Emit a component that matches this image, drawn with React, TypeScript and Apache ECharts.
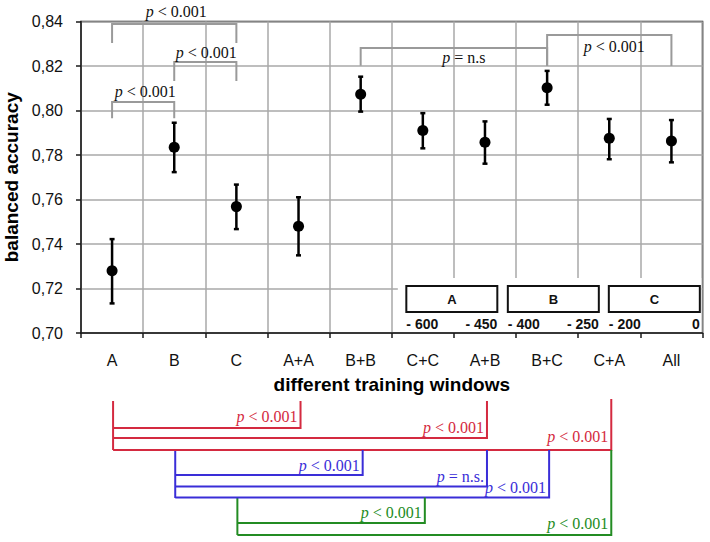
import React, { useEffect, useRef } from "react";
import * as echarts from "echarts";

const categories = ["A", "B", "C", "A+A", "B+B", "C+C", "A+B", "B+C", "C+A", "All"];
const meanValues = [0.728, 0.7835, 0.7568, 0.748, 0.8073, 0.791, 0.7857, 0.8102, 0.7875, 0.7863];
const upperValues = [0.7422, 0.7945, 0.7667, 0.761, 0.8152, 0.7988, 0.7951, 0.8178, 0.7962, 0.7957];
const lowerValues = [0.7133, 0.7723, 0.7467, 0.7349, 0.7995, 0.783, 0.7761, 0.8026, 0.7781, 0.7767];
const yTicks = { min: 0.7, max: 0.84, interval: 0.02 };

// significance brackets drawn inside the plot (values on the y scale)
const topBrackets = [
  { from: "A", to: "C", leg: 0.8303, top: 0.8389, text: " < 0.001", dx: 2, dy: -12 },
  { from: "B", to: "C", leg: 0.8133, top: 0.8218, text: " < 0.001", dx: 1, dy: -9 },
  { from: "A", to: "B", leg: 0.7965, top: 0.8038, text: " < 0.001", dx: 2, dy: -11 },
  { from: "B+B", to: "B+C", leg: 0.8201, top: 0.8281, text: " = n.s", dx: 10, dy: 10 },
  { from: "B+C", to: "All", leg: 0.82, top: 0.8339, text: " < 0.001", dx: 5, dy: 11 },
];

// comparison brackets below the chart
const RED = "#d42a40";
const BLUE = "#3a2ed8";
const GREEN = "#238c23";
const stems = [
  { at: "A", y1: 401, y2: 450, color: RED },
  { at: "B", y1: 450, y2: 498, color: BLUE },
  { at: "C", y1: 498, y2: 535, color: GREEN },
];
const lowBrackets = [
  { from: "A", to: "A+A", y: 428, vTop: 401, ly: 416, text: " < 0.001", color: RED },
  { from: "A", to: "A+B", y: 438, vTop: 401, ly: 427, text: " < 0.001", color: RED },
  { from: "A", to: "C+A", y: 450, vTop: 399, ly: 436, text: " < 0.001", color: RED },
  { from: "B", to: "B+B", y: 475, vTop: 450, ly: 465, text: " < 0.001", color: BLUE },
  { from: "B", to: "A+B", y: 486.5, vTop: 450, ly: 476, text: " = n.s.", color: BLUE },
  { from: "B", to: "B+C", y: 497.5, vTop: 450, ly: 487, text: " < 0.001", color: BLUE },
  { from: "C", to: "C+C", y: 523, vTop: 497.5, ly: 512.5, text: " < 0.001", color: GREEN },
  { from: "C", to: "C+A", y: 535, vTop: 450, ly: 523, text: " < 0.001", color: GREEN },
];

const insetBoxes = [
  { label: "A", left: "- 600", right: "- 450" },
  { label: "B", left: "- 400", right: "- 250" },
  { label: "C", left: "- 200", right: "0" },
];

const SANS = "'Liberation Sans', Arial, sans-serif";
const SERIF = "'Liberation Serif', 'Times New Roman', serif";

export default function App() {
  const ref = useRef<HTMLDivElement>(null);
  useEffect(() => {
    const chart = echarts.init(ref.current!, null, { renderer: "svg" });
    const option: any = {
      animation: false,
      backgroundColor: "#fff",
      grid: {
        left: 81,
        right: 7.5,
        top: 21.5,
        bottom: 209,
        containLabel: false,
        outerBoundsMode: "none",
        show: true,
        borderColor: "#1a1a1a",
        borderWidth: 1.5,
        backgroundColor: "transparent",
      },
      xAxis: {
        type: "category",
        data: categories,
        boundaryGap: true,
        name: "different training windows",
        nameLocation: "middle",
        nameGap: 42,
        nameTextStyle: { fontFamily: SANS, fontSize: 19, fontWeight: "bold", color: "#000" },
        axisLine: { lineStyle: { color: "#1a1a1a", width: 1.5 } },
        axisTick: { show: true, length: 5, lineStyle: { color: "#1a1a1a", width: 1.5 } },
        axisLabel: { fontFamily: SANS, fontSize: 16, color: "#111", margin: 19 },
        splitLine: { show: true, lineStyle: { color: "#a8a8a8", width: 1.5 } },
      },
      yAxis: {
        type: "value",
        min: yTicks.min,
        max: yTicks.max,
        interval: yTicks.interval,
        name: "balanced accuracy",
        nameLocation: "middle",
        nameGap: 50,
        nameTextStyle: { fontFamily: SANS, fontSize: 19, fontWeight: "bold", color: "#000" },
        axisLine: { show: true, lineStyle: { color: "#1a1a1a", width: 1.5 } },
        axisTick: { show: true, length: 5, lineStyle: { color: "#1a1a1a", width: 1.5 } },
        axisLabel: {
          fontFamily: SANS,
          fontSize: 16,
          color: "#111",
          margin: 18,
          formatter: (v: number) => v.toFixed(2).replace(".", ","),
        },
        splitLine: { show: true, lineStyle: { color: "#a8a8a8", width: 1.5 } },
      },
      series: [
        {
          type: "custom",
          data: categories.map((_, i) => [i, lowerValues[i], upperValues[i]]),
          renderItem: (params: any, api: any) => {
            const x = api.value(0);
            const lo = api.coord([x, api.value(1)]);
            const hi = api.coord([x, api.value(2)]);
            const w = 2.5;
            const st = { stroke: "#000", lineWidth: 2.5 };
            return {
              type: "group",
              children: [
                { type: "line", shape: { x1: lo[0], y1: lo[1], x2: hi[0], y2: hi[1] }, style: st },
                { type: "line", shape: { x1: lo[0] - w, y1: lo[1], x2: lo[0] + w, y2: lo[1] }, style: st },
                { type: "line", shape: { x1: hi[0] - w, y1: hi[1], x2: hi[0] + w, y2: hi[1] }, style: st },
              ],
            };
          },
          z: 3,
        },
        {
          type: "scatter",
          data: meanValues,
          symbol: "circle",
          symbolSize: 11,
          itemStyle: { color: "#000", opacity: 1 },
          z: 4,
        },
      ],
    };
    chart.setOption(option);

    const xp = (c: string) => chart.convertToPixel({ xAxisIndex: 0 }, c) as number;
    const yp = (v: number) => chart.convertToPixel({ yAxisIndex: 0 }, v) as number;
    const graphics: any[] = [];

    const pText = (x: number, y: number, text: string, color: string, align: string) => ({
      type: "text",
      x,
      y,
      z: 20,
      style: {
        text: "{i|p}" + text,
        fontFamily: SERIF,
        fontSize: 16,
        fill: color,
        align,
        verticalAlign: "middle",
        rich: { i: { fontStyle: "italic", fontFamily: SERIF, fontSize: 16, fill: color } },
      },
    });

    topBrackets.forEach((b) => {
      const x1 = xp(b.from);
      const x2 = xp(b.to);
      const yl = yp(b.leg);
      const yt = yp(b.top);
      graphics.push({
        type: "polyline",
        z: 10,
        shape: { points: [[x1, yl], [x1, yt], [x2, yt], [x2, yl]] },
        style: { stroke: "#9a9a9a", lineWidth: 2, fill: null },
      });
      graphics.push(pText((x1 + x2) / 2 + b.dx, yt + b.dy, b.text, "#111", "center"));
    });

    // white cover + inset boxes (time windows)
    const plotRight = xp("All") + (xp("All") - xp("C+A")) / 2;
    const plotBottom = yp(yTicks.min);
    const coverLeft = xp("C+C") - 25;
    graphics.push({
      type: "rect",
      z: 5,
      shape: { x: coverLeft, y: plotBottom - 55, width: plotRight - coverLeft - 1.2, height: 54 },
      style: { fill: "#fff", stroke: null },
    });
    const boxW = 91;
    const boxStarts = [coverLeft + 8.5, coverLeft + 110, coverLeft + 211];
    insetBoxes.forEach((b, i) => {
      const bx = boxStarts[i];
      graphics.push({
        type: "rect",
        z: 6,
        shape: { x: bx, y: plotBottom - 47, width: boxW, height: 26 },
        style: { fill: "#fff", stroke: "#111", lineWidth: 2 },
      });
      graphics.push({
        type: "text",
        z: 7,
        x: bx + boxW / 2,
        y: plotBottom - 34,
        style: { text: b.label, fontFamily: SANS, fontSize: 13, fontWeight: "bold", fill: "#111", align: "center", verticalAlign: "middle" },
      });
      graphics.push({
        type: "text",
        z: 7,
        x: bx,
        y: plotBottom - 9,
        style: { text: b.left, fontFamily: SANS, fontSize: 14, fontWeight: "bold", fill: "#111", align: "left", verticalAlign: "middle" },
      });
      graphics.push({
        type: "text",
        z: 7,
        x: bx + boxW,
        y: plotBottom - 9,
        style: { text: b.right, fontFamily: SANS, fontSize: 14, fontWeight: "bold", fill: "#111", align: "right", verticalAlign: "middle" },
      });
    });

    stems.forEach((s) => {
      const x = xp(s.at) + 1;
      graphics.push({
        type: "line",
        z: 10,
        shape: { x1: x, y1: s.y1, x2: x, y2: s.y2 },
        style: { stroke: s.color, lineWidth: 2 },
      });
    });
    lowBrackets.forEach((b) => {
      const x1 = xp(b.from) + 1;
      const x2 = xp(b.to) + 2;
      graphics.push({
        type: "polyline",
        z: 10,
        shape: { points: [[x1, b.y], [x2, b.y], [x2, b.vTop]] },
        style: { stroke: b.color, lineWidth: 2, fill: null },
      });
      graphics.push(pText(x2 - 3, b.ly, b.text, b.color, "right"));
    });

    chart.setOption({ graphic: graphics });
    return () => chart.dispose();
  }, []);
  return <div ref={ref} style={{ position: "fixed", left: 0, top: 0, width: 710, height: 542 }} />;
}
